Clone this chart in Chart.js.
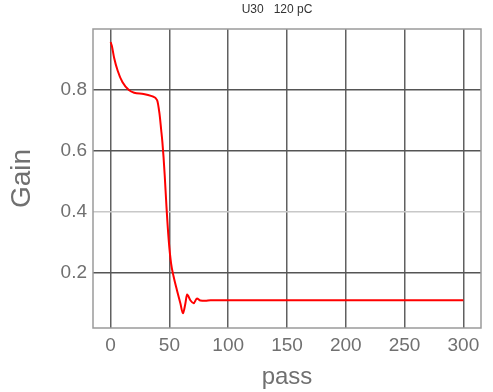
<!DOCTYPE html>
<html>
<head>
<meta charset="utf-8">
<script src="https://cdn.jsdelivr.net/npm/chart.js@4/dist/chart.umd.min.js"></script>
<style>
  html, body { margin: 0; padding: 0; background: #ffffff; }
  #wrap { width: 493px; height: 392px; }
</style>
</head>
<body>
<div id="wrap"><canvas id="gain-plot"></canvas></div>
<script>
// Gain vs pass
const passValues = [0, 1, 3, 6, 10, 15.5, 20, 28, 35, 39.5, 41.5, 43, 44, 45, 46, 47.5, 49.4, 51.4,
    53.6, 56.4, 59.3, 61.5, 63.6, 65, 67.8, 70.6, 73.4, 76.3, 80.5, 85, 100, 150, 200, 250, 300];
const gainValues = [0.957, 0.945, 0.905, 0.863, 0.826, 0.800, 0.791, 0.787, 0.780, 0.767, 0.724, 0.669, 0.630, 0.580, 0.520, 0.417, 0.308, 0.232,
    0.188, 0.144, 0.101, 0.068, 0.101, 0.130, 0.111, 0.101, 0.117, 0.110, 0.109, 0.111, 0.111, 0.111, 0.111, 0.111, 0.111];
const xTicks = [0, 50, 100, 150, 200, 250, 300];
const yTicks = [0.2, 0.4, 0.6, 0.8];
const chartTitle = 'U30   120 pC';

const axisFont = 'Liberation Sans, Arial, sans-serif';

// frame around the plot area + small title placed like the original
const framePlugin = {
    id: 'frame',
    afterDraw(chart) {
        const a = chart.chartArea;
        const ctx = chart.ctx;
        ctx.save();
        ctx.strokeStyle = '#9a9a9a';
        ctx.lineWidth = 1.5;
        ctx.strokeRect(a.left, a.top, a.right - a.left, a.bottom - a.top);
        ctx.fillStyle = '#333333';
        ctx.font = '12px ' + axisFont;
        ctx.textAlign = 'center';
        ctx.textBaseline = 'middle';
        ctx.fillText(chartTitle, 277, 10);
        ctx.restore();
    }
};

const canvas = document.getElementById('gain-plot');
new Chart(canvas, {
    type: 'line',
    data: {
        datasets: [{
            data: passValues.map((p, i) => ({ x: p, y: gainValues[i] })),
            borderColor: '#ff0000',
            borderWidth: 2,
            pointRadius: 0,
            fill: false,
            cubicInterpolationMode: 'monotone'
        }]
    },
    plugins: [framePlugin],
    options: {
        responsive: true,
        maintainAspectRatio: false,
        animation: false,
        layout: { padding: { left: 0, right: 12, top: 29, bottom: 0 } },
        plugins: {
            legend: { display: false },
            tooltip: { enabled: false },
            title: { display: false }
        },
        scales: {
            x: {
                type: 'linear',
                min: -15,
                max: 315,
                afterFit(scale) { scale.height = 64; },
                afterBuildTicks(scale) { scale.ticks = xTicks.map(v => ({ value: v })); },
                title: {
                    display: true,
                    text: 'pass',
                    color: '#707070',
                    font: { family: axisFont, size: 24 },
                    padding: { top: 0, bottom: 0 }
                },
                ticks: {
                    color: '#707070',
                    font: { family: axisFont, size: 19 },
                    padding: 6,
                    maxRotation: 0,
                    callback: v => String(v)
                },
                border: { display: false },
                grid: { color: '#606060', lineWidth: 1.5, drawTicks: false }
            },
            y: {
                min: 0.02,
                max: 1.0,
                afterFit(scale) { scale.width = 93; },
                afterBuildTicks(scale) { scale.ticks = yTicks.map(v => ({ value: v })); },
                title: {
                    display: true,
                    text: 'Gain',
                    color: '#707070',
                    font: { family: axisFont, size: 28 },
                    padding: { top: 5, bottom: 0 }
                },
                ticks: {
                    color: '#707070',
                    font: { family: axisFont, size: 19 },
                    padding: 6,
                    callback: v => v.toFixed(1)
                },
                border: { display: false },
                grid: {
                    color: ctx => (Math.abs(ctx.tick.value - 0.4) < 1e-6 ? '#c8c8c8' : '#555555'),
                    lineWidth: 1.5,
                    drawTicks: false
                }
            }
        }
    }
});
</script>
</body>
</html>
